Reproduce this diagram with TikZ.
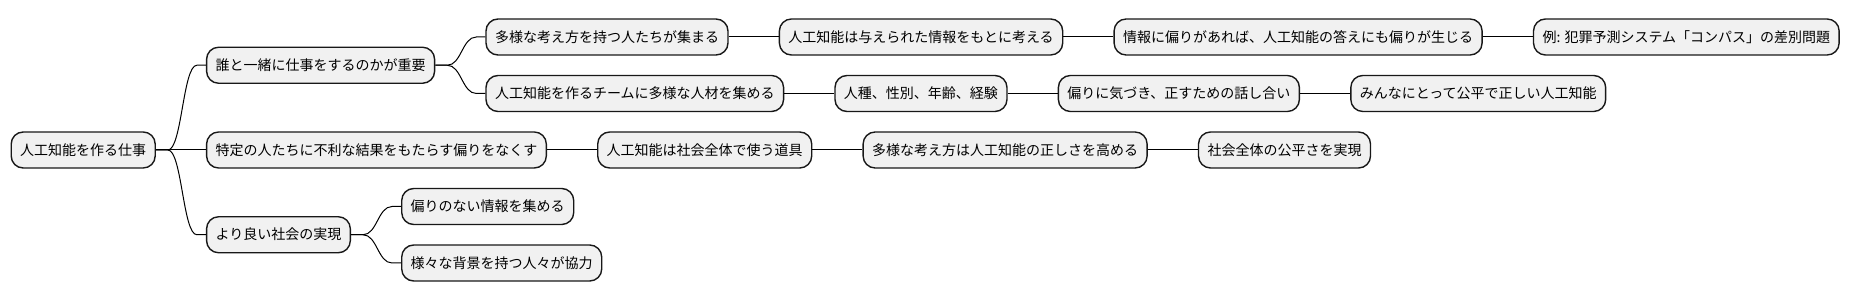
\documentclass[tikz,border=0pt]{standalone}
\usepackage{fontspec}
\setmainfont{Noto Sans CJK JP}
\usepackage{tikz}
\usetikzlibrary{positioning}

\definecolor{boxfill}{HTML}{F1F1F1}
\definecolor{boxline}{HTML}{181818}

\begin{document}
\begin{tikzpicture}[
    x=1pt,
    y=1pt,
    box/.style={draw=boxline, fill=boxfill, line width=1.4pt, rounded corners=12pt,
      minimum height=36pt, inner xsep=9pt, inner ysep=0pt,
      text height=12pt, text depth=1.5pt, font=\fontsize{14pt}{17pt}\selectfont},
    link/.style={draw=black, line width=1pt}
  ]
    \def\gap{50pt}
    \newcommand{\branchto}[2]{%
      \draw[link] (#1.east) -- ++(12pt,0)
        .. controls +(14pt,0) and +(-14pt,0) .. ([xshift=-9pt]#2.west) -- (#2.west);
    }

    \useasboundingbox (0,0) rectangle (1856,302);

    % root and first level
    \node[box, anchor=west] (work) at (10.5,152) {人工知能を作る仕事};
    \node[box, right=\gap of work, yshift=84.75pt] (team) {誰と一緒に仕事をするのかが重要};
    \node[box, right=\gap of work] (unbias) {特定の人たちに不利な結果をもたらす偏りをなくす};
    \node[box, right=\gap of work, yshift=-84.75pt] (society) {より良い社会の実現};

    % upper branch
    \node[box, right=\gap of team, yshift=28.25pt] (diverse) {多様な考え方を持つ人たちが集まる};
    \node[box, right=\gap of diverse] (input) {人工知能は与えられた情報をもとに考える};
    \node[box, right=\gap of input] (skew) {情報に偏りがあれば、人工知能の答えにも偏りが生じる};
    \node[box, right=\gap of skew] (compas) {例: 犯罪予測システム「コンパス」の差別問題};

    \node[box, right=\gap of team, yshift=-28.25pt] (crew) {人工知能を作るチームに多様な人材を集める};
    \node[box, right=\gap of crew] (traits) {人種、性別、年齢、経験};
    \node[box, right=\gap of traits] (talk) {偏りに気づき、正すための話し合い};
    \node[box, right=\gap of talk] (fair) {みんなにとって公平で正しい人工知能};

    % middle branch
    \node[box, right=\gap of unbias] (tool) {人工知能は社会全体で使う道具};
    \node[box, right=\gap of tool] (views) {多様な考え方は人工知能の正しさを高める};
    \node[box, right=\gap of views] (equity) {社会全体の公平さを実現};

    % lower branch
    \node[box, right=\gap of society, yshift=28.25pt] (clean) {偏りのない情報を集める};
    \node[box, right=\gap of society, yshift=-28.25pt] (coop) {様々な背景を持つ人々が協力};

    % connectors
    \branchto{work}{team}
    \draw[link] (work.east) -- (unbias.west);
    \branchto{work}{society}
    \branchto{team}{diverse}
    \branchto{team}{crew}
    \branchto{society}{clean}
    \branchto{society}{coop}
    \foreach \a/\b in {diverse/input, input/skew, skew/compas,
                       crew/traits, traits/talk, talk/fair,
                       unbias/tool, tool/views, views/equity} {
      \draw[link] (\a.east) -- (\b.west);
    }
  \end{tikzpicture}
\end{document}
